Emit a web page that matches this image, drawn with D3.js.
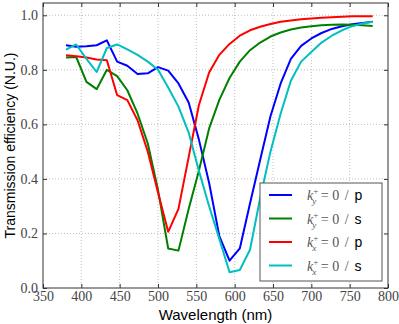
<!DOCTYPE html>
<html>
<head>
<meta charset="utf-8">
<script src="https://cdn.jsdelivr.net/npm/d3@7"></script>
<style>
  body { margin: 0; background: #fff; }
  svg { display: block; }
</style>
</head>
<body>
<div id="chart"></div>
<script>
const wavelength = [380, 393.3, 406.7, 420, 433.3, 446.7, 460, 473.3, 486.7, 500, 513.3, 526.7, 540, 553.3, 566.7, 580, 593.3, 606.7, 620, 633.3, 646.7, 660, 673.3, 686.7, 700, 713.3, 726.7, 740, 753.3, 766.7, 780];
const kyP = [0.890, 0.885, 0.886, 0.890, 0.908, 0.830, 0.815, 0.785, 0.787, 0.810, 0.797, 0.750, 0.680, 0.545, 0.385, 0.190, 0.100, 0.145, 0.310, 0.470, 0.630, 0.750, 0.840, 0.888, 0.915, 0.935, 0.950, 0.960, 0.967, 0.972, 0.976];
const kyS = [0.845, 0.847, 0.756, 0.729, 0.800, 0.777, 0.725, 0.640, 0.530, 0.360, 0.145, 0.137, 0.290, 0.430, 0.585, 0.690, 0.770, 0.830, 0.872, 0.900, 0.922, 0.937, 0.948, 0.955, 0.960, 0.963, 0.965, 0.966, 0.965, 0.963, 0.961];
const kxP = [0.853, 0.850, 0.845, 0.838, 0.835, 0.707, 0.689, 0.615, 0.500, 0.350, 0.206, 0.290, 0.480, 0.670, 0.790, 0.855, 0.895, 0.925, 0.945, 0.958, 0.968, 0.976, 0.981, 0.985, 0.988, 0.991, 0.993, 0.995, 0.996, 0.996, 0.996];
const kxS = [0.874, 0.893, 0.840, 0.792, 0.880, 0.893, 0.875, 0.855, 0.830, 0.800, 0.735, 0.665, 0.570, 0.430, 0.300, 0.180, 0.058, 0.066, 0.140, 0.330, 0.500, 0.640, 0.760, 0.830, 0.865, 0.900, 0.925, 0.945, 0.960, 0.970, 0.976];

const xTicks = [350, 400, 450, 500, 550, 600, 650, 700, 750, 800];
const yTicks = [0.0, 0.2, 0.4, 0.6, 0.8, 1.0];

const series = [
    { values: kyP, color: "#0000ff", sub: "y", pol: "p" },
    { values: kyS, color: "#008000", sub: "y", pol: "s" },
    { values: kxP, color: "#ff0000", sub: "x", pol: "p" },
    { values: kxS, color: "#00bfbf", sub: "x", pol: "s" }
];

const W = 399, H = 324;
const plotL = 43, plotR = 388, plotT = 3, plotB = 288;

const svg = d3.select("#chart").append("svg")
    .attr("width", W)
    .attr("height", H);

const x = d3.scaleLinear().domain([350, 800]).range([plotL, plotR]);
const y = d3.scaleLinear().domain([0, 1.045]).range([plotB, plotT]);

// grid
const grid = svg.append("g")
    .attr("stroke", "#b0b0b0")
    .attr("stroke-width", 0.8)
    .attr("stroke-dasharray", "1,2");
grid.selectAll("line.gx").data(xTicks.slice(1, -1)).enter().append("line")
    .attr("x1", d => x(d)).attr("x2", d => x(d))
    .attr("y1", plotT).attr("y2", plotB);
grid.selectAll("line.gy").data(yTicks.slice(1)).enter().append("line")
    .attr("x1", plotL).attr("x2", plotR)
    .attr("y1", d => y(d)).attr("y2", d => y(d));

// curves
const line = d3.line()
    .x((d, i) => x(wavelength[i]))
    .y(d => y(d));

svg.append("g").selectAll("path")
    .data(series)
    .enter().append("path")
    .attr("d", d => line(d.values))
    .attr("fill", "none")
    .attr("stroke", d => d.color)
    .attr("stroke-width", 2)
    .attr("stroke-linejoin", "round");

// axes with inward ticks
const tickFont = "'Liberation Serif', 'DejaVu Serif', serif";

const xAxis = svg.append("g")
    .attr("transform", `translate(0,${plotB})`)
    .call(d3.axisBottom(x).tickValues(xTicks).tickSizeInner(-4).tickSizeOuter(0).tickPadding(3).tickFormat(d3.format("d")));
const xAxisTop = svg.append("g")
    .attr("transform", `translate(0,${plotT})`)
    .call(d3.axisTop(x).tickValues(xTicks).tickSizeInner(-4).tickSizeOuter(0).tickFormat(""));
const yAxis = svg.append("g")
    .attr("transform", `translate(${plotL},0)`)
    .call(d3.axisLeft(y).tickValues(yTicks).tickSizeInner(-4).tickSizeOuter(0).tickPadding(5).tickFormat(d3.format(".1f")));
const yAxisRight = svg.append("g")
    .attr("transform", `translate(${plotR},0)`)
    .call(d3.axisRight(y).tickValues(yTicks).tickSizeInner(-4).tickSizeOuter(0).tickFormat(""));

[xAxis, xAxisTop, yAxis, yAxisRight].forEach(g => {
    g.select(".domain").remove();
    g.selectAll(".tick line").attr("stroke", "#333");
    g.selectAll("text")
        .attr("font-family", tickFont)
        .attr("font-size", 14)
        .attr("fill", "#444");
});

svg.append("rect")
    .attr("x", plotL).attr("y", plotT)
    .attr("width", plotR - plotL).attr("height", plotB - plotT)
    .attr("fill", "none")
    .attr("stroke", "#333")
    .attr("stroke-width", 1);

// axis labels
svg.append("text")
    .attr("x", (plotL + plotR) / 2)
    .attr("y", 320)
    .attr("text-anchor", "middle")
    .attr("font-family", "'Liberation Sans', Arial, sans-serif")
    .attr("font-size", 15)
    .text("Wavelength (nm)");

svg.append("text")
    .attr("transform", `translate(15,${(plotT + plotB) / 2}) rotate(-90)`)
    .attr("text-anchor", "middle")
    .attr("font-family", "'Liberation Sans', Arial, sans-serif")
    .attr("font-size", 14)
    .text("Transmission efficiency (N.U.)");

// legend
const legend = svg.append("g");
legend.append("rect")
    .attr("x", 260).attr("y", 183)
    .attr("width", 122).attr("height", 98)
    .attr("fill", "#fff")
    .attr("stroke", "#555")
    .attr("stroke-width", 1);

const rows = legend.selectAll("g.row")
    .data(series)
    .enter().append("g")
    .attr("transform", (d, i) => `translate(0,${195 + i * 23.5})`);

rows.append("line")
    .attr("x1", 269).attr("x2", 292)
    .attr("y1", 0).attr("y2", 0)
    .attr("stroke", d => d.color)
    .attr("stroke-width", 2);

const label = rows.append("text")
    .attr("x", 307)
    .attr("y", 5)
    .attr("font-family", tickFont)
    .attr("font-size", 14)
    .attr("fill", "#555");
label.append("tspan").attr("font-style", "italic").text("k");
label.append("tspan").attr("font-size", 9).attr("dy", -6).text("+");
label.append("tspan").attr("font-size", 9).attr("font-style", "italic").attr("dx", -6).attr("dy", 10).text(d => d.sub);
label.append("tspan").attr("dy", -4).attr("dx", 1).text(" = 0 ");
label.append("tspan").attr("dx", 2).text("/");
label.append("tspan")
    .attr("dx", 6)
    .attr("font-family", "'Liberation Sans', Arial, sans-serif")
    .attr("fill", "#000")
    .text(d => d.pol);
</script>
</body>
</html>
